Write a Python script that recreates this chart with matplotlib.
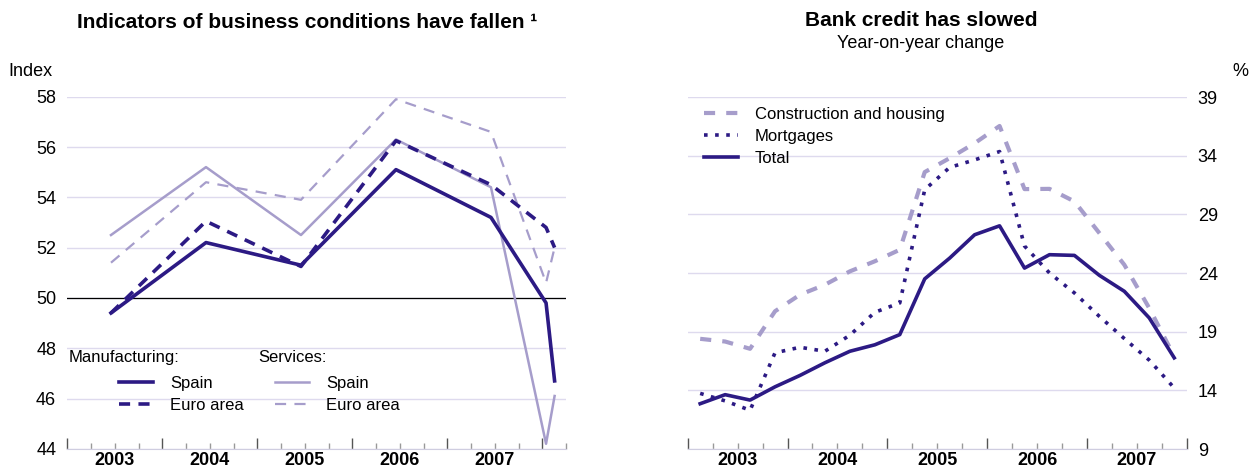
import matplotlib
matplotlib.use("Agg")
import matplotlib.pyplot as plt
from matplotlib.lines import Line2D
from matplotlib.ticker import MultipleLocator

plt.rcParams['font.family'] = ['Liberation Sans', 'DejaVu Sans']
plt.rcParams['lines.scale_dashes'] = False

DARK = '#2c1a84'
LIGHT = '#a69dcb'
GRID = '#dedaee'

# Left chart: business indicators (annual averages, then latest months)
pmi_x = [2003.46, 2004.46, 2005.46, 2006.46, 2007.46, 2008.04, 2008.13]
manuf_spain = [49.4, 52.2, 51.3, 55.1, 53.2, 49.8, 46.7]
manuf_euro = [49.4, 53.05, 51.25, 56.25, 54.5, 52.8, 52.0]
serv_spain = [52.5, 55.2, 52.5, 56.3, 54.4, 44.2, 46.1]
serv_euro = [51.4, 54.6, 53.9, 57.9, 56.6, 50.6, 52.0]

# Right chart: bank credit, quarterly
credit_x = [2003.125 + 0.25 * i for i in range(20)]
construction = [18.39, 18.16, 17.54, 20.74, 22.15, 23.0, 24.14, 25.0, 25.98, 32.6,
                33.79, 35.06, 36.53, 31.15, 31.17, 30.1, 27.4, 24.7, 21.0, 16.9]
mortgages = [13.74, 13.1, 12.3, 17.2, 17.67, 17.33, 18.7, 20.65, 21.45, 31.1,
             33.0, 33.64, 34.35, 26.3, 24.0, 22.3, 20.3, 18.41, 16.57, 14.2]
total = [12.86, 13.63, 13.17, 14.3, 15.27, 16.35, 17.33, 17.88, 18.75, 23.5,
         25.27, 27.26, 28.02, 24.42, 25.56, 25.5, 23.8, 22.44, 20.17, 16.77]

years = [2003, 2004, 2005, 2006, 2007]

fig = plt.figure(figsize=(12.59, 4.71), dpi=100)
axL = fig.add_axes([67.3 / 1259, 1 - 448.8 / 471, (566 - 67.3) / 1259, (448.8 - 96.7) / 471])
axR = fig.add_axes([687.7 / 1259, 1 - 449 / 471, (1186.7 - 687.7) / 1259, (449 - 97) / 471])


def style_axis(ax, xmax):
    for s in ['top', 'left', 'right']:
        ax.spines[s].set_visible(False)
    ax.spines['bottom'].set_color('#cfcde0')
    ax.set_xlim(2003, xmax)
    ax.xaxis.set_major_locator(MultipleLocator(1))
    ax.xaxis.set_minor_locator(MultipleLocator(0.25))
    ax.tick_params(axis='x', which='major', direction='in', length=8, width=1, color='#555555', labelbottom=False)
    ax.tick_params(axis='x', which='minor', direction='in', length=4, width=1, color='#999999')
    ax.grid(axis='y', color=GRID, lw=1)
    ax.set_axisbelow(True)
    for y in years:
        ax.text(y + 0.5, -0.009, str(y), transform=ax.get_xaxis_transform(),
                ha='center', va='top', fontsize=13, fontweight='bold')


# ---- left panel
style_axis(axL, 2008.25)
axL.set_ylim(44, 58)
axL.set_yticks(range(44, 59, 2))
axL.tick_params(axis='y', length=0, pad=8, labelsize=13)
axL.axhline(50, color='black', lw=0.9, zorder=1)

axL.plot(pmi_x, serv_euro, color=LIGHT, lw=1.6, dashes=(8, 6))
axL.plot(pmi_x, serv_spain, color=LIGHT, lw=1.8)
axL.plot(pmi_x, manuf_euro, color=DARK, lw=2.6, dashes=(8, 6))
axL.plot(pmi_x, manuf_spain, color=DARK, lw=2.6)

axL.text(0.002, 0.258, 'Manufacturing:', transform=axL.transAxes, fontsize=12, va='center')
axL.text(0.383, 0.258, 'Services:', transform=axL.transAxes, fontsize=12, va='center')
leg_kw = dict(frameon=False, fontsize=12, handlelength=2.05, handletextpad=1.0,
              labelspacing=0.42, borderpad=0, borderaxespad=0, loc='center left')
h1 = [Line2D([], [], color=DARK, lw=2.6), Line2D([], [], color=DARK, lw=2.6, dashes=(8, 6))]
h2 = [Line2D([], [], color=LIGHT, lw=1.8), Line2D([], [], color=LIGHT, lw=1.6, dashes=(8, 6))]
lg1 = axL.legend(h1, ['Spain', 'Euro area'], bbox_to_anchor=(0.104, 0.154), **leg_kw)
axL.add_artist(lg1)
axL.legend(h2, ['Spain', 'Euro area'], bbox_to_anchor=(0.4165, 0.154), **leg_kw)

fig.text(307.5 / 1259, 1 - 22 / 471, 'Indicators of business conditions have fallen ¹',
         ha='center', va='center', fontsize=15, fontweight='bold')
fig.text(8 / 1259, 1 - 72 / 471, 'Index', ha='left', va='center', fontsize=13)

# ---- right panel
style_axis(axR, 2008)
axR.set_ylim(9, 39)
axR.set_yticks(range(9, 40, 5))
axR.yaxis.tick_right()
axR.tick_params(axis='y', length=0, pad=8, labelsize=13)

axR.plot(credit_x, construction, color=LIGHT, lw=3, dashes=(8, 8))
axR.plot(credit_x, mortgages, color=DARK, lw=2.6, dashes=(2.6, 5.4), dash_capstyle='butt')
axR.plot(credit_x, total, color=DARK, lw=2.6)

hr = [Line2D([], [], color=LIGHT, lw=3, dashes=(8, 8)),
      Line2D([], [], color=DARK, lw=2.6, dashes=(2.6, 5.4), dash_capstyle='butt'),
      Line2D([], [], color=DARK, lw=2.6)]
axR.legend(hr, ['Construction and housing', 'Mortgages', 'Total'], bbox_to_anchor=(0.033, 0.887), **leg_kw)

fig.text(921 / 1259, 1 - 21 / 471, 'Bank credit has slowed', ha='center', va='center',
         fontsize=15, fontweight='bold')
fig.text(921 / 1259, 1 - 44 / 471, 'Year-on-year change', ha='center', va='center', fontsize=13)
fig.text(1240 / 1259, 1 - 72 / 471, '%', ha='center', va='center', fontsize=13)

fig.savefig('out.png', dpi=100)
